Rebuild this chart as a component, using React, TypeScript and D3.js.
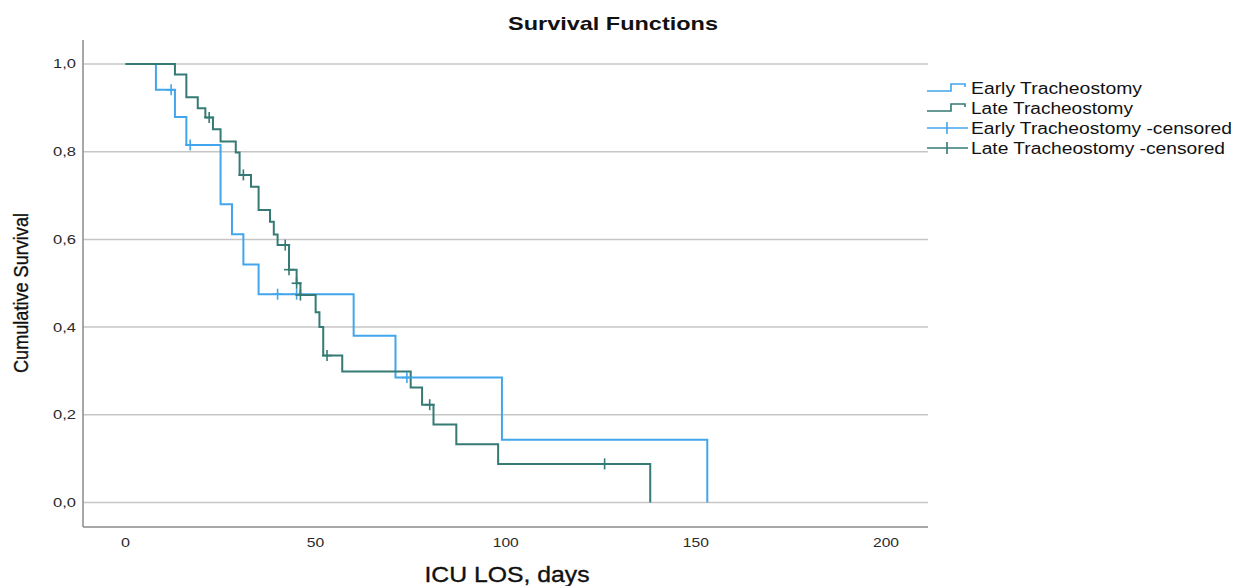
import React from "react";
import * as d3 from "d3";

const earlyTimes = [0, 8, 13, 16, 25, 28, 31, 35, 60, 71, 99, 153];
const earlySurv = [1, 0.941, 0.879, 0.815, 0.68, 0.612, 0.543, 0.475, 0.38, 0.285, 0.143, 0];
const earlyCensorTimes = [12, 17, 40, 45, 74];
const earlyCensorSurv = [0.941, 0.815, 0.475, 0.475, 0.285];

const lateTimes = [0, 13, 16, 19, 21, 23, 25, 29, 30, 33, 35, 38, 39, 40, 43, 45, 46, 50, 51, 52, 57, 75, 78, 81, 87, 98, 138];
const lateSurv = [1, 0.976, 0.924, 0.899, 0.878, 0.851, 0.823, 0.798, 0.747, 0.72, 0.667, 0.64, 0.611, 0.587, 0.531, 0.5, 0.473, 0.434, 0.4, 0.335, 0.299, 0.262, 0.223, 0.178, 0.133, 0.088, 0];
const lateCensorTimes = [22, 31, 42, 43, 45, 46, 53, 80, 126];
const lateCensorSurv = [0.878, 0.747, 0.587, 0.531, 0.5, 0.473, 0.335, 0.223, 0.088];

const xTicks = [0, 50, 100, 150, 200];
const yTicks = [0, 0.2, 0.4, 0.6, 0.8, 1.0];
const legendLabels = ["Early Tracheostomy", "Late Tracheostomy", "Early Tracheostomy -censored", "Late Tracheostomy -censored"];
const legendWidths = [171, 162, 261, 254];

const BLUE = "#42a6ec";
const GREEN = "#357a74";
const FONT = "'Liberation Sans', Arial, sans-serif";

export default function App() {
  const left = 83, right = 928, top = 40, bottom = 527;
  const x = d3.scaleLinear().domain([-11.18, 211.05]).range([left, right]);
  const y = d3.scaleLinear().domain([-0.0559, 1.0547]).range([bottom, top]);

  const line = d3
    .line<[number, number]>()
    .x((d) => x(d[0]))
    .y((d) => y(d[1]))
    .curve(d3.curveStepAfter);

  const earlyPts = earlyTimes.map((t, i) => [t, earlySurv[i]] as [number, number]);
  const latePts = lateTimes.map((t, i) => [t, lateSurv[i]] as [number, number]);

  const cross = (t: number, s: number, color: string, key: string) => (
    <g key={key} stroke={color} strokeWidth={1.6}>
      <line x1={x(t) - 5} x2={x(t) + 5} y1={y(s)} y2={y(s)} />
      <line x1={x(t)} x2={x(t)} y1={y(s) - 5.5} y2={y(s) + 5.5} />
    </g>
  );

  const fmt = (v: number) => v.toFixed(1).replace(".", ",");

  return (
    <svg
      width={1245}
      height={586}
      style={{ position: "absolute", left: 0, top: 0, background: "#fff" }}
      fontFamily={FONT}
    >
      <rect width={1245} height={586} fill="#fff" />
      {/* Title */}
      <text x={613} y={30} textAnchor="middle" fontSize={19} fontWeight="bold" fill="#111" textLength={210} lengthAdjust="spacingAndGlyphs">
        Survival Functions
      </text>

      {/* gridlines */}
      {yTicks.map((v) => (
        <line key={"g" + v} x1={left} x2={right} y1={y(v)} y2={y(v)} stroke="#c6c6c6" strokeWidth={1.5} />
      ))}

      {/* axes frame */}
      <line x1={left} x2={left} y1={top} y2={bottom} stroke="#8a8a8a" strokeWidth={1.5} />
      <line x1={left} x2={right} y1={bottom} y2={bottom} stroke="#8a8a8a" strokeWidth={1.5} />

      {/* y tick labels */}
      {yTicks.map((v) => (
        <text key={"yt" + v} x={76} y={y(v)} textAnchor="end" dominantBaseline="central" fontSize={13.5} fill="#2a2a2a" textLength={23} lengthAdjust="spacingAndGlyphs">
          {fmt(v)}
        </text>
      ))}
      {/* x tick labels */}
      {xTicks.map((v) => (
        <text key={"xt" + v} x={x(v)} y={542} textAnchor="middle" dominantBaseline="central" fontSize={13.5} fill="#2a2a2a" textLength={v === 0 ? 9 : v < 100 ? 17.5 : 26} lengthAdjust="spacingAndGlyphs">
          {v}
        </text>
      ))}

      {/* axis titles */}
      <text
        transform={`translate(28,293) rotate(-90)`}
        textAnchor="middle"
        fontSize={21}
        fill="#111"
        stroke="#111"
        strokeWidth={0.35}
        textLength={160}
        lengthAdjust="spacingAndGlyphs"
      >
        Cumulative Survival
      </text>
      <text x={507} y={582} textAnchor="middle" fontSize={22} fill="#111" stroke="#111" strokeWidth={0.35} textLength={165} lengthAdjust="spacingAndGlyphs">
        ICU LOS, days
      </text>

      {/* survival curves */}
      <path d={line(earlyPts) || ""} fill="none" stroke={BLUE} strokeWidth={2} />
      <path d={line(latePts) || ""} fill="none" stroke={GREEN} strokeWidth={2} />

      {earlyCensorTimes.map((t, i) => cross(t, earlyCensorSurv[i], BLUE, "ec" + i))}
      {lateCensorTimes.map((t, i) => cross(t, lateCensorSurv[i], GREEN, "lc" + i))}

      {/* legend */}
      {legendLabels.map((lab, i) => {
        const cy = 88 + i * 20;
        const color = i % 2 === 0 ? BLUE : GREEN;
        return (
          <g key={"lg" + i}>
            {i < 2 ? (
              <path
                d={`M927,${cy + 3}H951V${cy - 4}H965V${cy - 1}`}
                fill="none"
                stroke={color}
                strokeWidth={1.6}
              />
            ) : (
              <g stroke={color} strokeWidth={1.6}>
                <line x1={927} x2={968} y1={cy} y2={cy} />
                <line x1={947} x2={947} y1={cy - 6} y2={cy + 6} />
              </g>
            )}
            <text x={971} y={cy} dominantBaseline="central" fontSize={16} fill="#111" textLength={legendWidths[i]} lengthAdjust="spacingAndGlyphs">
              {lab}
            </text>
          </g>
        );
      })}
    </svg>
  );
}
